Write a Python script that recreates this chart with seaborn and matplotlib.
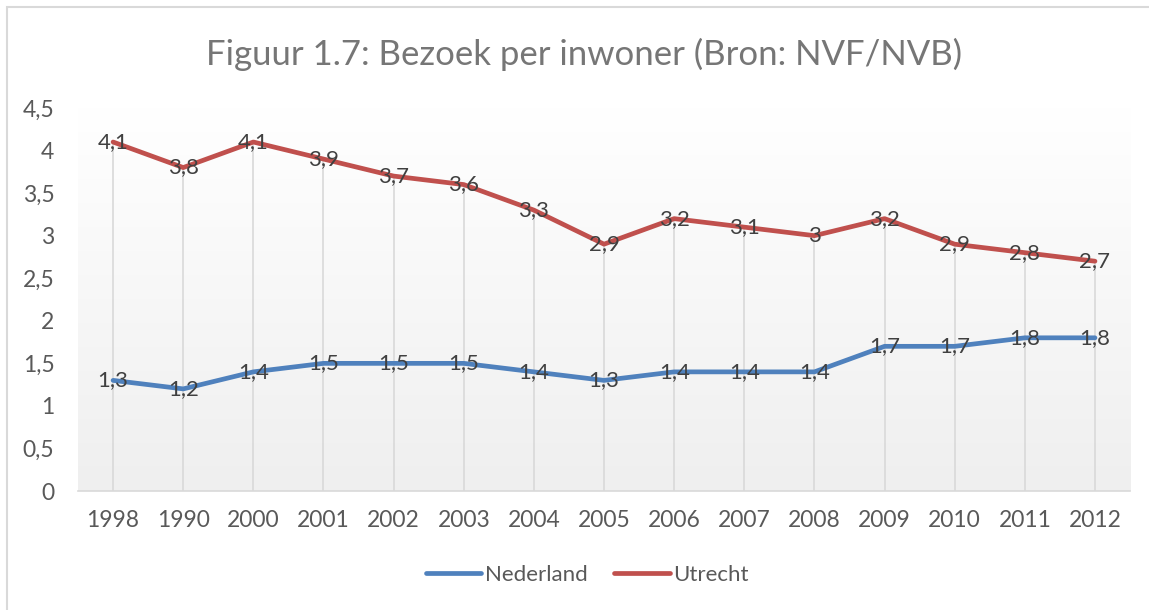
import numpy as np
import pandas as pd
import matplotlib.pyplot as plt
import seaborn as sns
from matplotlib.patches import Rectangle
from matplotlib.lines import Line2D

# data
years = ["1998", "1990", "2000", "2001", "2002", "2003", "2004", "2005",
         "2006", "2007", "2008", "2009", "2010", "2011", "2012"]
nederland = [1.3, 1.2, 1.4, 1.5, 1.5, 1.5, 1.4, 1.3, 1.4, 1.4, 1.4, 1.7, 1.7, 1.8, 1.8]
utrecht = [4.1, 3.8, 4.1, 3.9, 3.7, 3.6, 3.3, 2.9, 3.2, 3.1, 3.0, 3.2, 2.9, 2.8, 2.7]
series_names = ["Nederland", "Utrecht"]
colors = {"Nederland": "#4f81bd", "Utrecht": "#c0504d"}
y_ticks = [0, 0.5, 1, 1.5, 2, 2.5, 3, 3.5, 4, 4.5]

sns.set_style("white")
plt.rcParams['font.family'] = ['Lato', 'DejaVu Sans']

df = pd.DataFrame({
    "pos": list(range(len(years))) * 2,
    "waarde": nederland + utrecht,
    "reeks": ["Nederland"] * len(years) + ["Utrecht"] * len(years),
})

fig = plt.figure(figsize=(11.49, 6.10), dpi=100)
ax = fig.add_axes([0.0679, 0.195, 0.9156, 0.628])

# plot area gradient (white at top -> light grey at bottom)
grad = np.linspace(0.0, 1.0, 256).reshape(-1, 1)
ax.imshow(grad, extent=[-0.5, 14.5, 0, 4.5], aspect="auto",
          cmap=sns.blend_palette(["#efefef", "#ffffff"], as_cmap=True),
          origin="lower", zorder=0)

# drop lines
tops = np.maximum(nederland, utrecht)
ax.vlines(range(len(years)), 0, tops, color="#d9d9d9", lw=1.2, zorder=1)

sns.lineplot(data=df, x="pos", y="waarde", hue="reeks", palette=colors,
             lw=3.4, ax=ax, legend=False, zorder=3)

# data labels
def fmt(v):
    s = f"{v:.1f}".rstrip("0").rstrip(".")
    return s.replace(".", ",")

for name, vals in zip(series_names, [nederland, utrecht]):
    for i, v in enumerate(vals):
        ax.text(i, v, fmt(v), ha="center", va="center", fontsize=16,
                color="#404040", zorder=4)

ax.set_xlim(-0.5, 14.5)
ax.set_ylim(0, 4.5)
ax.set_xticks(range(len(years)))
ax.set_xticklabels(years)
ax.set_yticks(y_ticks)
ax.set_yticklabels([fmt(t) if t else "0" for t in y_ticks])
ax.tick_params(axis="both", labelsize=16.5, colors="#595959", length=0)
ax.tick_params(axis="x", pad=14)
ax.tick_params(axis="y", pad=17)
ax.set_xlabel("")
ax.set_ylabel("")
for side in ["top", "right", "left"]:
    ax.spines[side].set_visible(False)
ax.spines["bottom"].set_color("#d9d9d9")
ax.spines["bottom"].set_linewidth(1.2)

fig.text(0.508, 0.91, "Figuur 1.7: Bezoek per inwoner (Bron: NVF/NVB)",
         ha="center", va="center", fontsize=25, color="#767676")

handles = [Line2D([0], [0], color=colors[n], lw=3.4) for n in series_names]
fig.legend(handles, series_names, loc="center", bbox_to_anchor=(0.511, 0.057),
           ncol=2, frameon=False, fontsize=16, labelcolor="#595959",
           handlelength=2.5, handletextpad=0.15, columnspacing=1.2)

# chart border (top and left visible)
fig.patches.append(Rectangle((7 / 1149, -0.1), 1.2, 1 - 7 / 610 + 0.1,
                             transform=fig.transFigure, fill=False,
                             edgecolor="#d9d9d9", lw=1.5))

fig.savefig("out.png", dpi=100)
